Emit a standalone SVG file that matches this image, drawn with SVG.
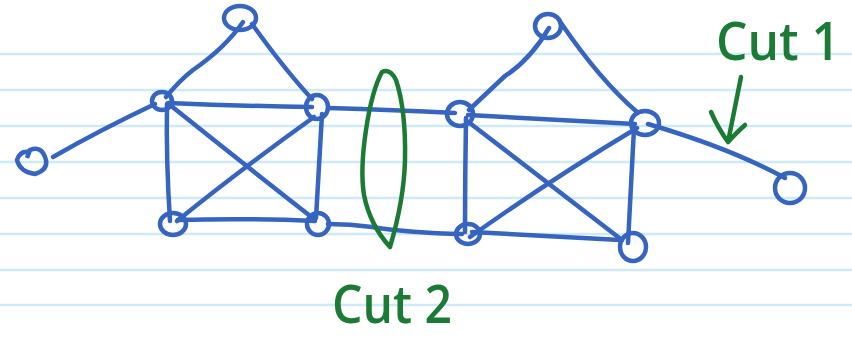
<svg xmlns="http://www.w3.org/2000/svg" width="852" height="338" viewBox="0 0 852 338">
<style>
.rule{stroke:#cfe9fb;stroke-width:2.5}
.e{fill:none;stroke:#3565c0;stroke-width:4.5;stroke-linecap:round;stroke-linejoin:round}
.n{fill:none;stroke:#3565c0;stroke-width:4.5}
.g{fill:none;stroke:#1b7b34;stroke-width:4.5;stroke-linecap:round;stroke-linejoin:round}
.t{fill:#1b7b34;font-family:"Open Sans","Liberation Sans",sans-serif;font-weight:600}
</style>
<rect width="852" height="338" fill="#ffffff"/>
<g id="paper">
<line class="rule" x1="0" y1="54" x2="852" y2="54"/>
<line class="rule" x1="0" y1="90" x2="852" y2="90"/>
<line class="rule" x1="0" y1="126" x2="852" y2="126"/>
<line class="rule" x1="0" y1="162" x2="852" y2="162"/>
<line class="rule" x1="0" y1="198" x2="852" y2="198"/>
<line class="rule" x1="0" y1="234" x2="852" y2="234"/>
<line class="rule" x1="0" y1="270" x2="852" y2="270"/>
<line class="rule" x1="0" y1="305" x2="852" y2="305"/>
</g>
<g id="connectors">
<path class="e" d="M53 157 Q100 130 155 104"/>
<path class="e" d="M166 97 Q180 80 193 70 Q225 48 243 22"/>
<path class="e" d="M252 24 Q285 70 312 99"/>
<path class="e" d="M168 103 Q240 106 312 107"/>
<path class="e" d="M167 104 Q166 160 170 221"/>
<path class="e" d="M170 105 Q245 165 314 219"/>
<path class="e" d="M314 117 Q240 170 177 221"/>
<path class="e" d="M322 114 L316 218"/>
<path class="e" d="M178 220 Q250 218 315 221"/>
<path class="e" d="M328 108 Q395 110 455 113"/>
<path class="e" d="M328 224 Q350 224 372 227 Q410 233 462 234"/>
<path class="e" d="M469 110 Q490 90 505 76 Q530 60 549 28"/>
<path class="e" d="M561 23 Q600 80 637 112"/>
<path class="e" d="M468 115 Q560 120 635 124"/>
<path class="e" d="M466 118 Q465 175 465 232"/>
<path class="e" d="M471 124 Q550 185 622 240"/>
<path class="e" d="M637 128 Q550 180 470 237"/>
<path class="e" d="M634 128 L628 243"/>
<path class="e" d="M472 232 Q550 236 620 240"/>
<path class="e" d="M648 124 Q730 148 785 178"/>
</g>
<g id="n0"><path class="n" d="M30 152 Q20 150 17 160 Q20 172 35 174 Q48 170 46 160 Q42 145 30 150 L27 158"/></g>
<g id="n1"><ellipse class="n" cx="240" cy="18" rx="16" ry="12"/></g>
<g id="n2"><ellipse class="n" cx="162" cy="101" rx="10" ry="9"/></g>
<g id="n3"><ellipse class="n" cx="317" cy="107" rx="11" ry="12"/></g>
<g id="n4"><ellipse class="n" cx="173" cy="224" rx="13" ry="11"/></g>
<g id="n5"><ellipse class="n" cx="318" cy="224" rx="11" ry="11"/></g>
<g id="n6"><ellipse class="n" cx="548" cy="26" rx="13" ry="12"/></g>
<g id="n7"><ellipse class="n" cx="460" cy="114" rx="13" ry="12"/></g>
<g id="n8"><ellipse class="n" cx="645" cy="123" rx="14" ry="12"/></g>
<g id="n9"><ellipse class="n" cx="468" cy="234" rx="12" ry="10"/></g>
<g id="n10"><ellipse class="n" cx="633" cy="247" rx="13" ry="14"/></g>
<g id="n11"><ellipse class="n" cx="790" cy="188" rx="15" ry="15"/></g>
<g id="cut2">
<path class="g" d="M382 72 Q372 90 366 130 Q360 170 364 195 Q370 225 390 247 Q404 200 405 160 Q406 110 396 80 Q390 68 382 72 Z"/>
<text class="t" x="332" y="323" font-size="52" textLength="120" lengthAdjust="spacingAndGlyphs">Cut 2</text>
</g>
<g id="cut1">
<text class="t" x="716" y="60" font-size="52" textLength="124" lengthAdjust="spacingAndGlyphs">Cut 1</text>
<path class="g" d="M741 77 L728 142 M711 112 Q718 128 728 142 Q737 132 745 125" stroke-width="6"/>
</g>
</svg>
